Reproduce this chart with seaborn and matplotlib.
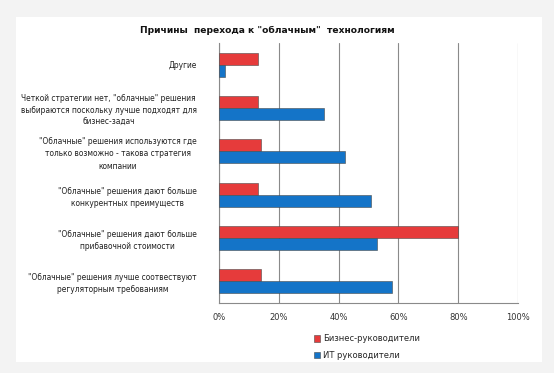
import matplotlib
matplotlib.use("Agg")
import matplotlib.pyplot as plt
import matplotlib.patches as mpatches
import seaborn as sns
import pandas as pd
import numpy as np

sns.set_theme(style="white")
plt.rcParams['font.family'] = ['DejaVu Sans']

# данные (в долях, ось 0..1)
categories = [
    "Другие",
    "Четкой стратегии нет, \"облачные\" решения\nвыбираются поскольку лучше подходят для\nбизнес-задач",
    "\"Облачные\" решения используются где\nтолько возможно - такова стратегия\nкомпании",
    "\"Облачные\" решения дают больше\nконкурентных преимуществ",
    "\"Облачные\" решения дают больше\nприбавочной стоимости",
    "\"Облачные\" решения лучше соотвествуют\nрегуляторным требованиям",
]
business = [0.13, 0.13, 0.14, 0.13, 0.80, 0.14]
it_heads = [0.02, 0.35, 0.42, 0.51, 0.53, 0.58]
series = ["Бизнес-руководители", "ИТ руководители"]
colors = ["#e63b3b", "#1474c8"]
xticks = [0, 0.2, 0.4, 0.6, 0.8, 1.0]
xticklabels = ["0%", "20%", "40%", "60%", "80%", "100%"]

df = pd.DataFrame({
    "cat": categories * 2,
    "group": [series[0]] * len(categories) + [series[1]] * len(categories),
    "val": business + it_heads,
})

fig = plt.figure(figsize=(5.54, 3.73), dpi=100)
fig.patch.set_facecolor("#f3f3f3")
# белая панель диаграммы
fig.patches.append(mpatches.Rectangle((16 / 554, 1 - 362 / 373), 526 / 554, 345 / 373,
                                      transform=fig.transFigure, facecolor="white",
                                      edgecolor="none", zorder=-10))

ax = fig.add_axes([219 / 554, 1 - 303 / 373, 299 / 554, 260 / 373])
ax.set_facecolor("none")

sns.barplot(data=df, y="cat", x="val", hue="group", order=categories, hue_order=series,
            palette=colors, saturation=1, width=0.56, orient="h", ax=ax, legend=False,
            edgecolor="#4a4a4a", linewidth=0.4, zorder=3)

ax.set_xlim(0, 1.0)
ax.set_xticks(xticks)
ax.set_xticklabels(xticklabels, fontsize=6, color="#333333")
ax.set_xlabel("")
ax.set_ylabel("")
ax.tick_params(axis="x", length=0, pad=7)
ax.tick_params(axis="y", length=0, pad=16)
for lbl in ax.get_yticklabels():
    lbl.set_fontsize(5.45)
    lbl.set_color("#222222")
    lbl.set_multialignment("center")
    lbl.set_linespacing(1.45)

ax.grid(axis="x", color="#8a8a8a", linewidth=0.8)
ax.grid(axis="y", visible=False)
ax.set_axisbelow(True)
for s in ["top", "right"]:
    ax.spines[s].set_visible(False)
for s in ["left", "bottom"]:
    ax.spines[s].set_color("#8a8a8a")
    ax.spines[s].set_linewidth(0.8)

fig.text(267 / 554, 1 - 30 / 373, "Причины  перехода к \"облачным\"  технологиям",
         ha="center", va="center", fontsize=6.6, fontweight="bold", color="#111111")

handles = [mpatches.Patch(facecolor=c, edgecolor="#4a4a4a", linewidth=0.4) for c in colors]
fig.legend(handles, series, loc="center left", bbox_to_anchor=(306 / 554, 1 - 347 / 373),
           frameon=False, fontsize=6, handlelength=0.8, handleheight=0.8,
           handletextpad=0.3, labelspacing=0.9)

fig.savefig("out.png", dpi=100, facecolor=fig.get_facecolor())
